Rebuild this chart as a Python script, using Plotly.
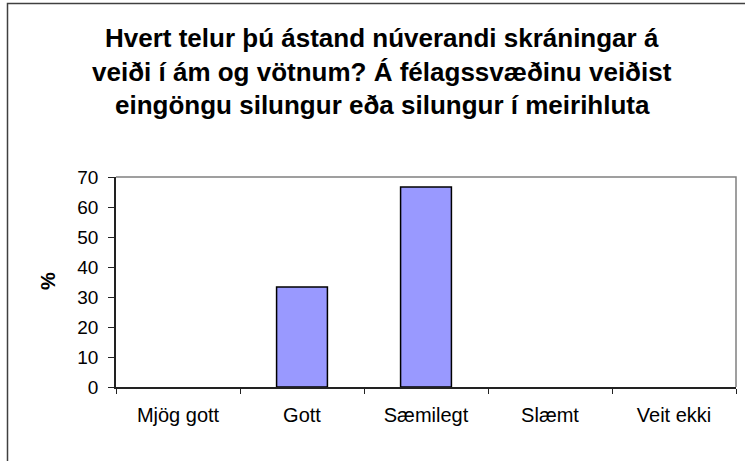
import plotly.graph_objects as go

categories = ["Mjög gott", "Gott", "Sæmilegt", "Slæmt", "Veit ekki"]
values = [0, 33.3, 66.7, 0, 0]
y_ticks = [0, 10, 20, 30, 40, 50, 60, 70]
title_lines = [
    "Hvert telur þú ástand núverandi skráningar á",
    "veiði í ám og vötnum? Á félagssvæðinu veiðist",
    "eingöngu silungur eða silungur í meirihluta",
]

W, H = 745, 461
L, R, T, B = 116, 9, 177, 74
pw, ph = W - L - R, H - T - B

def px(x):
    return (x - L) / pw

def py(y):
    return (H - B - y) / ph

fig = go.Figure()
fig.add_trace(go.Bar(
    x=categories, y=values,
    marker=dict(color="#9999FF",
                line=dict(color="#000000", width=[1.5 if v > 0 else 0 for v in values])),
))

font_family = "Liberation Sans, Arial, sans-serif"

annotations = []
for i, line in enumerate(title_lines):
    annotations.append(dict(
        text="<b>" + line + "</b>", xref="paper", yref="paper",
        x=px(382), y=py(38 + i * 33.5), xanchor="center", yanchor="middle",
        showarrow=False, font=dict(family=font_family, size=26, color="#000000"),
    ))
annotations.append(dict(
    text="<b>%</b>", xref="paper", yref="paper", x=px(48), y=py(281),
    xanchor="center", yanchor="middle", textangle=-90, showarrow=False,
    font=dict(family=font_family, size=20, color="#000000"),
))

shapes = [
    # outer chart frame (left and top visible)
    dict(type="path", xref="paper", yref="paper",
         path=f"M {px(7.5)} {py(470)} L {px(7.5)} {py(3.5)} L {px(760)} {py(3.5)}",
         line=dict(color="#404040", width=1.5)),
    # plot area top and right border
    dict(type="path", xref="paper", yref="paper",
         path=f"M {px(L)} 1 L 1 1 L 1 0",
         line=dict(color="#808080", width=1.5)),
]

fig.update_layout(
    width=W, height=H,
    margin=dict(l=L, r=R, t=T, b=B, autoexpand=False),
    paper_bgcolor="#FFFFFF", plot_bgcolor="#FFFFFF",
    showlegend=False, bargap=0.59,
    font=dict(family=font_family, size=20, color="#000000"),
    annotations=annotations, shapes=shapes,
    xaxis=dict(
        type="category", showline=True, linecolor="#222222", linewidth=1.5,
        ticks="outside", tickson="boundaries", ticklen=5, tickcolor="#222222",
        showgrid=False, zeroline=False, tickfont=dict(size=20), ticklabelstandoff=9,
    ),
    yaxis=dict(
        range=[0, 70], tickvals=y_ticks, showline=True, linecolor="#222222", linewidth=1.5,
        ticks="outside", ticklen=6, tickcolor="#222222", showgrid=False,
        zeroline=False, tickfont=dict(size=19), ticklabelstandoff=6,
    ),
)

fig.write_html("out.html", config={"displayModeBar": False},
               post_script="document.body.style.margin='0';")
